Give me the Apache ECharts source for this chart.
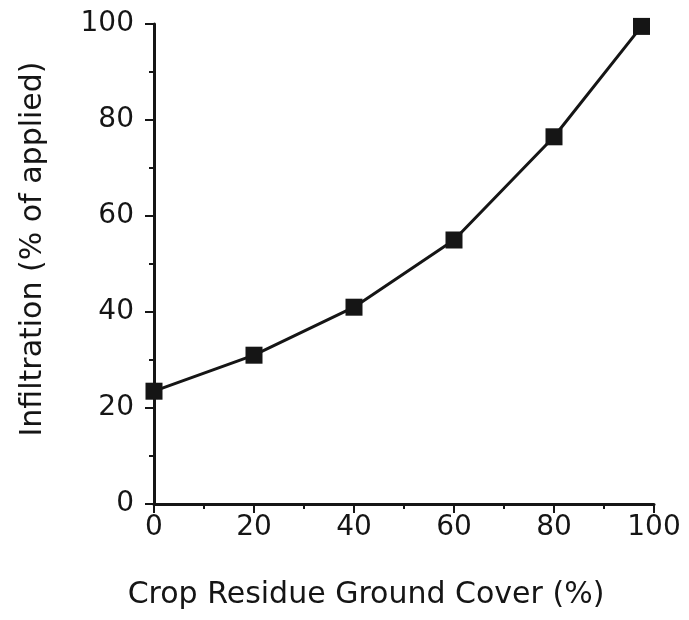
<!DOCTYPE html>
<html>
<head>
<meta charset="utf-8">
<script src="https://cdn.jsdelivr.net/npm/echarts@6/dist/echarts.min.js"></script>
<style>
html,body{margin:0;padding:0;background:#fff;}
#chart{width:689px;height:620px;}
</style>
</head>
<body>
<div id="chart"></div>
<script>
const coverX = [0, 20, 40, 60, 80, 97.5];
const infiltrationY = [23.5, 31, 41, 55, 76.5, 99.5];
const xTicks = [0, 20, 40, 60, 80, 100];
const yTicks = [0, 20, 40, 60, 80, 100];
const xName = 'Crop Residue Ground Cover (%)';
const yName = 'Infiltration (% of applied)';

const ink = '#151515';
const font = 'DejaVu Sans';
const chart = echarts.init(document.getElementById('chart'));
chart.setOption({
  animation: false,
  backgroundColor: '#fff',
  grid: {left: 154, right: 35, top: 24, bottom: 116},
  xAxis: {
    type: 'value', min: xTicks[0], max: xTicks[xTicks.length-1], interval: 20,
    name: xName, nameLocation: 'middle', nameGap: 76,
    nameTextStyle: {color: ink, fontFamily: font, fontSize: 30, padding: [0, 76, 0, 0]},
    axisLine: {show: true, lineStyle: {color: ink, width: 3}},
    axisTick: {show: true, length: 9, lineStyle: {color: ink, width: 2}},
    minorTick: {show: true, splitNumber: 2, length: 5, lineStyle: {color: ink, width: 2}},
    axisLabel: {color: ink, fontFamily: font, fontSize: 28, margin: 10},
    splitLine: {show: false}
  },
  yAxis: {
    type: 'value', min: yTicks[0], max: yTicks[yTicks.length-1], interval: 20,
    name: yName, nameLocation: 'middle', nameGap: 106, nameRotate: 90,
    nameTextStyle: {color: ink, fontFamily: font, fontSize: 30, padding: [0, 0, 0, 30]},
    axisLine: {show: true, lineStyle: {color: ink, width: 3}},
    axisTick: {show: true, length: 9, lineStyle: {color: ink, width: 2}},
    minorTick: {show: true, splitNumber: 2, length: 5, lineStyle: {color: ink, width: 2}},
    axisLabel: {color: ink, fontFamily: font, fontSize: 28, margin: 20},
    splitLine: {show: false}
  },
  series: [{
    type: 'line',
    data: coverX.map((x, i) => [x, infiltrationY[i]]),
    symbol: 'rect', symbolSize: 17,
    lineStyle: {color: ink, width: 3},
    itemStyle: {color: ink, borderRadius: 3},
    clip: false
  }]
});
</script>
</body>
</html>
